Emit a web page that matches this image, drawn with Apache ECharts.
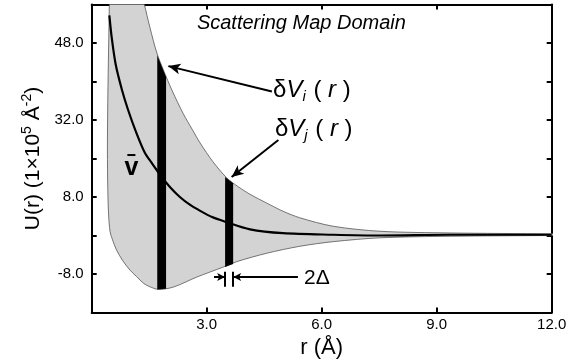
<!DOCTYPE html>
<html><head><meta charset="utf-8">
<script src="https://cdn.jsdelivr.net/npm/echarts@6/dist/echarts.min.js"></script>
<style>html,body{margin:0;padding:0;background:#fff}#c{width:579px;height:364px}</style>
</head><body><div id="c"></div>
<script>
// x: r (Å); y: position on the (evenly spaced) U(r) tick scale, tick k labelled yTickLabels[k]
const xTickLabels = {3:'3.0', 6:'6.0', 9:'9.0', 12:'12.0'};
const yTickLabels = ['-8.0', '8.0', '32.0', '48.0'];

const upperR = [1.28, 1.37, 1.52, 1.70, 1.87, 2.10, 2.39, 2.62, 2.83, 3.16, 3.52, 3.82, 4.13, 4.57, 4.99, 5.43, 6.30, 7.52, 9.35, 12.0, 12.4];
const upperY = [3.69, 3.51, 3.20, 2.87, 2.65, 2.38, 2.08, 1.88, 1.70, 1.46, 1.25, 1.134, 1.035, 0.92, 0.815, 0.73, 0.62, 0.555, 0.533, 0.522, 0.52];
const lowerR = [0.46, 0.46, 0.44, 0.42, 0.41, 0.42, 0.44, 0.48, 0.56, 0.65, 0.80, 1.00, 1.17, 1.35, 1.50, 1.74, 2.13, 2.74, 3.43, 3.78, 4.57, 5.43, 6.30, 7.52, 9.35, 12.0, 12.4];
const lowerY = [3.69, 3.51, 2.91, 2.26, 1.61, 1.10, 0.78, 0.55, 0.42, 0.31, 0.18, 0.05, -0.033, -0.12, -0.162, -0.20, -0.17, -0.04, 0.09, 0.16, 0.27, 0.36, 0.42, 0.47, 0.49, 0.50, 0.50];
const meanR = [0.46, 0.53, 0.63, 0.79, 0.95, 1.16, 1.39, 1.57, 1.81, 2.04, 2.30, 2.56, 2.83, 3.14, 3.48, 4.13, 4.99, 6.30, 7.52, 9.35, 12.0];
const meanY = [3.36, 3.04, 2.71, 2.39, 2.13, 1.84, 1.57, 1.44, 1.27, 1.13, 1.00, 0.90, 0.82, 0.74, 0.68, 0.58, 0.53, 0.51, 0.50, 0.51, 0.51];

// the two δV slices: left/right r, bottom at left/right, top at left/right
const sliceR0 = [1.71, 3.48];
const sliceR1 = [1.94, 3.69];
const sliceBottom0 = [-0.20, 0.09];
const sliceBottom1 = [-0.19, 0.13];
const sliceTop0 = [2.84, 1.26];
const sliceTop1 = [2.56, 1.18];

const arrowFrom = [[4.70, 2.37], [4.87, 1.74]];
const arrowTo = [[2.00, 2.70], [3.65, 1.26]];
const deltaY = -0.04, deltaTickTop = 0.03, deltaTickBottom = -0.165;
const deltaLeftTail = 3.19, deltaRightTail = 5.38;

const bandPts = upperR.map((r, i) => [r, upperY[i]])
  .concat(lowerR.map((r, i) => [r, lowerY[i]]).reverse());
const meanPts = meanR.map((r, i) => [r, meanY[i]]);
const slices = sliceR0.map((r, i) => [r, sliceR1[i], sliceBottom0[i], sliceBottom1[i], sliceTop1[i], sliceTop0[i]]);

const FONT = '"Liberation Sans", Arial, sans-serif';
const chart = echarts.init(document.getElementById('c'), null, {renderer: 'canvas'});
const axisLine = {show: true, onZero: false, lineStyle: {color: '#000', width: 2}};
const tick = {show: true, inside: true, length: 5, lineStyle: {color: '#000', width: 2}};

const option = {
  animation: false,
  backgroundColor: '#fff',
  grid: {left: 91.7, right: 27.3, top: 4.5, bottom: 51.5, containLabel: false, outerBoundsMode: 'none'},
  xAxis: [{
    type: 'value', min: 0, max: 12, interval: 3, position: 'bottom',
    axisLine, axisTick: tick, splitLine: {show: false},
    axisLabel: {margin: 5, fontFamily: FONT, fontSize: 15, color: '#000',
      formatter: v => xTickLabels[v] || '', showMaxLabel: true, showMinLabel: true, hideOverlap: false},
    name: 'r (Å)', nameLocation: 'middle', nameGap: 20,
    nameTextStyle: {fontFamily: FONT, fontSize: 22, color: '#000'}
  }, {
    type: 'value', min: 0, max: 12, interval: 3, position: 'top',
    axisLine, axisTick: tick, axisLabel: {show: false}, splitLine: {show: false}
  }],
  yAxis: [{
    type: 'value', min: -0.5, max: 3.5, interval: 0.5, position: 'left',
    axisLine, axisTick: tick, splitLine: {show: false},
    axisLabel: {margin: 8, fontFamily: FONT, fontSize: 15, color: '#000',
      formatter: v => (Number.isInteger(v) && v >= 0 && v < yTickLabels.length) ? yTickLabels[v] : ''},
    name: '{a|U(r) (1×10}{s|5}{a| Å}{s|-2}{a|)}', nameLocation: 'middle', nameGap: 45,
    nameTextStyle: {rich: {
      a: {fontFamily: FONT, fontSize: 21, color: '#000', lineHeight: 26},
      s: {fontFamily: FONT, fontSize: 14, color: '#000', lineHeight: 14, verticalAlign: 'top'}
    }}
  }, {
    type: 'value', min: -0.5, max: 3.5, interval: 0.5, position: 'right',
    axisLine, axisTick: tick, axisLabel: {show: false}, splitLine: {show: false}
  }],
  series: [{
    type: 'custom', name: 'band', clip: true, z: 1,
    data: bandPts,
    renderItem: (params, api) => {
      if (params.dataIndex !== 0) return null;
      return {type: 'polygon', shape: {points: bandPts.map(p => api.coord(p)), smooth: 0.3},
        style: {fill: '#d3d3d3', stroke: '#555', lineWidth: 0.8}};
    }
  }, {
    type: 'line', name: 'mean', data: meanPts, smooth: 0.3, showSymbol: false, clip: true, z: 3,
    lineStyle: {color: '#000', width: 2.2},
    markLine: {
      silent: true, animation: false, label: {show: false},
      lineStyle: {color: '#000', width: 2, type: 'solid'},
      symbol: ['none', 'arrow'], symbolSize: 11,
      data: [
        [{coord: arrowFrom[0], symbol: 'none'}, {coord: arrowTo[0], symbol: 'arrow', symbolSize: [8, 12]}],
        [{coord: arrowFrom[1], symbol: 'none'}, {coord: arrowTo[1], symbol: 'arrow', symbolSize: [8, 12]}],
        [{coord: [deltaLeftTail, deltaY], symbol: 'none'}, {coord: [sliceR0[1], deltaY], symbol: 'arrow', symbolSize: [6, 8]}],
        [{coord: [deltaRightTail, deltaY], symbol: 'none'}, {coord: [sliceR1[1], deltaY], symbol: 'arrow', symbolSize: [6, 8]}],
        [{coord: [sliceR0[1], deltaTickTop], symbol: 'none'}, {coord: [sliceR0[1], deltaTickBottom], symbol: 'none'}],
        [{coord: [sliceR1[1], deltaTickTop], symbol: 'none'}, {coord: [sliceR1[1], deltaTickBottom], symbol: 'none'}]
      ]
    }
  }, {
    type: 'custom', name: 'slices', clip: true, z: 4,
    data: slices,
    renderItem: (params, api) => {
      const p = [api.coord([api.value(0), api.value(2)]), api.coord([api.value(1), api.value(3)]),
                 api.coord([api.value(1), api.value(4)]), api.coord([api.value(0), api.value(5)])];
      return {type: 'polygon', shape: {points: p}, style: {fill: '#000'}};
    }
  }]
};
chart.setOption(option);

const P = (r, y) => chart.convertToPixel({gridIndex: 0}, [r, y]);
const tTitle = P(5.47, 3.26), tVi = P(4.73, 2.39), tVj = P(4.78, 1.88), tD = P(5.54, -0.05), tV = P(1.04, 1.38);
const barL = P(0.93, 1.545), barR = P(1.14, 1.545);
const richDV = {
  d: {fontFamily: FONT, fontSize: 24, lineHeight: 28, fill: '#000'},
  v: {fontFamily: FONT, fontSize: 24, fontStyle: 'italic', lineHeight: 28, fill: '#000'},
  s: {fontFamily: FONT, fontSize: 15, fontStyle: 'italic', lineHeight: 15, verticalAlign: 'bottom', fill: '#000', padding: [0, 1, 0, 0]},
  p: {fontFamily: FONT, fontSize: 24, lineHeight: 28, fill: '#000'}
};
chart.setOption({graphic: [
  {type: 'text', x: tTitle[0], y: tTitle[1], z: 10, style: {text: 'Scattering Map Domain', fontFamily: FONT, fontSize: 20, fontStyle: 'italic', fill: '#000', align: 'center', verticalAlign: 'middle'}},
  {type: 'text', x: tVi[0], y: tVi[1], z: 10, style: {text: '{d|δ}{v|V}{s|i}{p| ( }{v|r}{p| )}', rich: richDV, align: 'left', verticalAlign: 'middle'}},
  {type: 'text', x: tVj[0], y: tVj[1], z: 10, style: {text: '{d|δ}{v|V}{s|j}{p| ( }{v|r}{p| )}', rich: richDV, align: 'left', verticalAlign: 'middle'}},
  {type: 'text', x: tD[0], y: tD[1], z: 10, style: {text: '2Δ', fontFamily: FONT, fontSize: 21, fill: '#000', align: 'left', verticalAlign: 'middle'}},
  {type: 'text', x: tV[0], y: tV[1], z: 10, style: {text: 'v', fontFamily: FONT, fontSize: 25, fontWeight: 'bold', fill: '#000', align: 'center', verticalAlign: 'middle'}},
  {type: 'line', z: 10, shape: {x1: barL[0], y1: barL[1], x2: barR[0], y2: barR[1]}, style: {stroke: '#000', lineWidth: 2}}
]});
</script>
</body></html>
